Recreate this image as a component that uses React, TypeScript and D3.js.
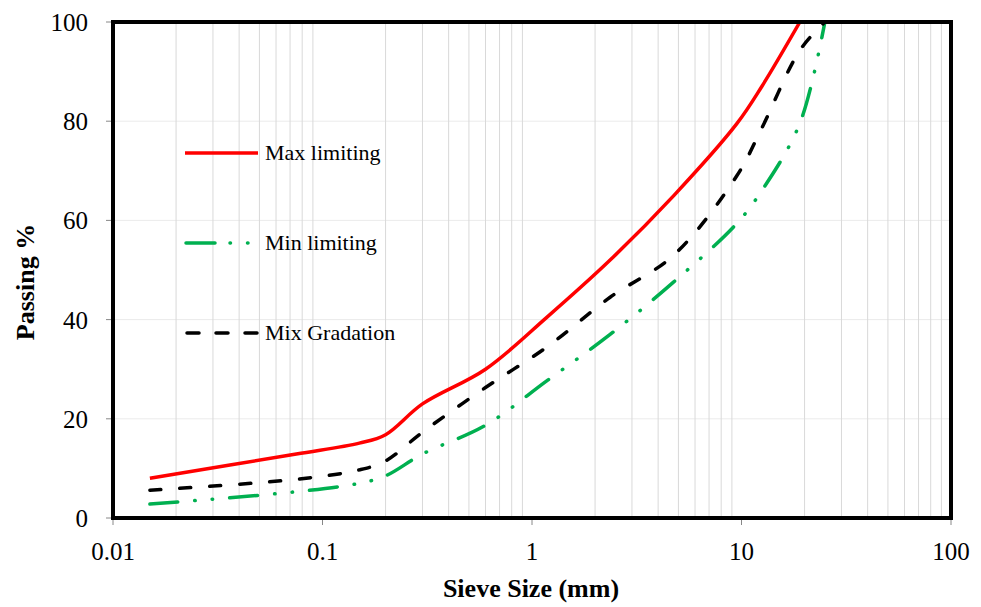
import React from "react";
import * as d3 from "d3";

const sieveSizes = [0.015, 0.075, 0.15, 0.2, 0.3, 0.6, 1.18, 2.36, 4.75, 9.5, 12.5, 19, 25];
const maxLimiting = [8, 12.9, 15.1, 16.8, 23, 30, 40.5, 52, 65, 79.5, 87, 100];
const minLimiting = [2.8, 5.3, 7, 8.5, 12.9, 18.7, 27.7, 37, 47.6, 59.4, 66, 79.6, 100];
const mixGradation = [5.6, 7.8, 9.7, 11.5, 17.3, 26.3, 34.5, 44.5, 53, 69, 78.6, 94.3, 100];
const xTicks = [0.01, 0.1, 1, 10, 100];
const xTickLabels = ["0.01", "0.1", "1", "10", "100"];
const yTicks = [0, 20, 40, 60, 80, 100];

const W = 981;
const H = 607;
const left = 113;
const right = 951;
const top = 22;
const bottom = 518;
const FONT = "'Liberation Serif', 'Times New Roman', serif";

export default function App() {
  const x = d3.scaleLog().domain([0.01, 100]).range([left, right]);
  const y = d3.scaleLinear().domain([0, 100]).range([bottom, top]);

  const minor: number[] = [];
  for (let e = -2; e < 2; e++) {
    for (let m = 2; m <= 9; m++) minor.push(m * Math.pow(10, e));
  }

  const line = d3
    .line<[number, number]>()
    .x((d) => x(d[0]))
    .y((d) => y(d[1]))
    .curve(d3.curveCatmullRom.alpha(0.5));

  const series = (vals: number[]) => vals.map((v, i) => [sieveSizes[i], v] as [number, number]);

  const greenDash = "28 17 0.5 17 0.5 17";
  const blackDash = "11 19";

  return (
    <svg width={W} height={H} style={{ position: "absolute", left: 0, top: 0, background: "#fff" }}>
      <defs>
        <clipPath id="plotClip">
          <rect x={left} y={top} width={right - left} height={bottom - top} />
        </clipPath>
      </defs>
      {yTicks.filter((t) => t > 0 && t < 100).map((t) => (
        <line key={"h" + t} x1={left} x2={right} y1={y(t)} y2={y(t)} stroke="#ebebeb" strokeWidth={1} />
      ))}
      {minor.map((m, i) => (
        <line key={"v" + i} x1={x(m)} x2={x(m)} y1={top} y2={bottom} stroke="#d9d9d9" strokeWidth={1} />
      ))}
      {yTicks.map((t) => (
        <g key={"yt" + t}>
          <line x1={106} x2={left} y1={y(t)} y2={y(t)} stroke="#888" strokeWidth={1} />
          <text x={88} y={y(t) + 9} textAnchor="end" fontFamily={FONT} fontSize={25} fill="#000">
            {t}
          </text>
        </g>
      ))}
      {xTicks.map((t, i) => (
        <g key={"xt" + t}>
          <line x1={x(t)} x2={x(t)} y1={bottom} y2={bottom + 7} stroke="#888" strokeWidth={1} />
          <text x={x(t)} y={560} textAnchor="middle" fontFamily={FONT} fontSize={25} fill="#000">
            {xTickLabels[i]}
          </text>
        </g>
      ))}
      <line x1={left} x2={right} y1={bottom + 1.5} y2={bottom + 1.5} stroke="#888" strokeWidth={1} />
      <g clipPath="url(#plotClip)">
        <path d={line(series(maxLimiting)) || ""} fill="none" stroke="#ff0000" strokeWidth={3.5} />
        <path
          d={line(series(minLimiting)) || ""}
          fill="none"
          stroke="#00b050"
          strokeWidth={3.5}
          strokeLinecap="round"
          strokeDasharray={greenDash}
        />
        <path
          d={line(series(mixGradation)) || ""}
          fill="none"
          stroke="#000"
          strokeWidth={3.5}
          strokeLinecap="round"
          strokeDasharray={blackDash}
        />
      </g>
      <rect x={left} y={top} width={right - left} height={bottom - top} fill="none" stroke="#000" strokeWidth={4} />
      <line x1={185} x2={258} y1={153} y2={153} stroke="#ff0000" strokeWidth={3.5} />
      <text x={265} y={160} fontFamily={FONT} fontSize={22} fill="#000">Max limiting</text>
      <line x1={186} x2={258} y1={243} y2={243} stroke="#00b050" strokeWidth={3.5} strokeLinecap="round" strokeDasharray="29 15 0.5 17 0.5 40" />
      <text x={265} y={250} fontFamily={FONT} fontSize={22} fill="#000">Min limiting</text>
      <line x1={187} x2={258} y1={333} y2={333} stroke="#000" strokeWidth={3.5} strokeLinecap="round" strokeDasharray="12 17" />
      <text x={265} y={340} fontFamily={FONT} fontSize={22} fill="#000">Mix Gradation</text>
      <text x={531} y={597} textAnchor="middle" fontFamily={FONT} fontSize={26} fontWeight="bold" fill="#000">
        Sieve Size (mm)
      </text>
      <text
        transform={`translate(34, 282) rotate(-90)`}
        textAnchor="middle"
        fontFamily={FONT}
        fontSize={26}
        fontWeight="bold"
        fill="#000"
      >
        Passing %
      </text>
    </svg>
  );
}
